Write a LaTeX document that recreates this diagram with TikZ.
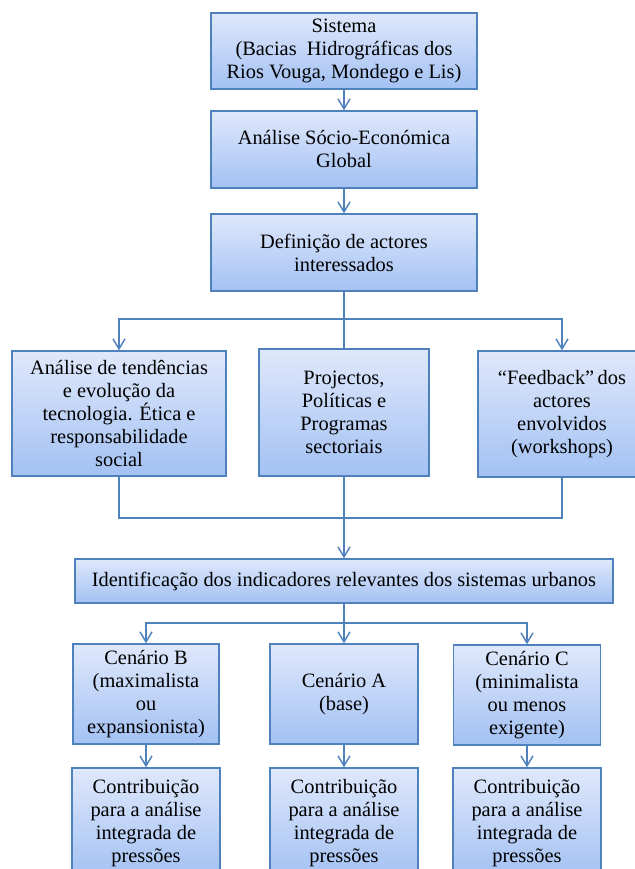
\documentclass[tikz,border=0pt]{standalone}
\usepackage{fontspec}
\setmainfont{Liberation Serif}
\newfontfamily\boxfont{Liberation Serif}
\usetikzlibrary{arrows.meta,shadings}
\definecolor{boxtop}{HTML}{DFE8FB}
\definecolor{boxbottom}{HTML}{A3C1F3}
\definecolor{edgeblue}{HTML}{4F81BD}

\begin{document}
\begin{tikzpicture}[x=0.75pt, y=-0.75pt,
    box/.style={draw=edgeblue, line width=1.1pt, top color=boxtop, bottom color=boxbottom,
        inner sep=0pt, align=center, font=\boxfont\fontsize{15.3}{17.25}\selectfont},
    link/.style={draw=edgeblue, line width=1.1pt},
    arr/.style={link, -{Straight Barb[length=7.5pt, width=9pt]}}]

    \useasboundingbox (0,0) rectangle (635,869);

    % Top chain
    \node[box, minimum width=199.5pt, minimum height=57pt] (sis) at (344,51)
        {Sistema\\(Bacias\ \ Hidrográficas dos\\Rios Vouga, Mondego e Lis)};
    \node[box, minimum width=199.5pt, minimum height=57.75pt] (soc) at (344,149.5)
        {Análise Sócio-Económica\\Global};
    \node[box, minimum width=199.5pt, minimum height=57.75pt] (def) at (344,252.5)
        {Definição de actores\\interessados};

    % Three inputs
    \node[box, minimum width=160.5pt, minimum height=93.75pt] (tend) at (119,413.5)
        {Análise de tendências\\e evolução da\\tecnologia. Ética e\\responsabilidade\\social};
    \node[box, minimum width=127.5pt, minimum height=95.25pt] (proj) at (344,412.5)
        {Projectos,\\Políticas e\\Programas\\sectoriais};
    \node[box, minimum width=126pt, minimum height=94.5pt] (feed) at (562,414)
        {“Feedback”\,dos\\actores\\envolvidos\\(workshops)};

    % Indicators
    \node[box, minimum width=403.5pt, minimum height=33pt] (ident) at (344,581)
        {Identificação dos indicadores relevantes dos sistemas urbanos};

    % Scenarios
    \node[box, minimum width=109.5pt, minimum height=75pt] (cenB) at (146,694)
        {Cenário B\\(maximalista\\ou\\expansionista)};
    \node[box, minimum width=111pt, minimum height=75pt] (cenA) at (344,694)
        {Cenário A\\(base)};
    \node[box, minimum width=110.25pt, minimum height=75pt] (cenC) at (527,695)
        {Cenário C\\(minimalista\\ou menos\\exigente)};

    % Contributions
    \node[box, minimum width=111pt, minimum height=82.5pt] (conB) at (146,823)
        {Contribuição\\para a análise\\integrada de\\pressões};
    \node[box, minimum width=111pt, minimum height=82.5pt] (conA) at (344,823)
        {Contribuição\\para a análise\\integrada de\\pressões};
    \node[box, minimum width=111pt, minimum height=82.5pt] (conC) at (527,823)
        {Contribuição\\para a análise\\integrada de\\pressões};

    % Forks
    \coordinate (fk1) at (344,319);
    \coordinate (fk2) at (344,518);
    \coordinate (fk3) at (344,623);

    % Connectors
    \draw[arr] (sis) -- (soc);
    \draw[arr] (soc) -- (def);
    \draw[link] (def) -- (proj);
    \draw[arr] (fk1) -| (tend);
    \draw[arr] (fk1) -| (feed);
    \draw[link] (tend) |- (fk2);
    \draw[link] (feed) |- (fk2);
    \draw[arr] (proj) -- (ident);
    \draw[link] (ident) -- (fk3);
    \draw[arr] (fk3) -| (cenB);
    \draw[arr] (fk3) -- (cenA);
    \draw[arr] (fk3) -| (cenC);
    \draw[arr] (cenB) -- (conB);
    \draw[arr] (cenA) -- (conA);
    \draw[arr] (cenC) -- (conC);

\end{tikzpicture}
\end{document}
